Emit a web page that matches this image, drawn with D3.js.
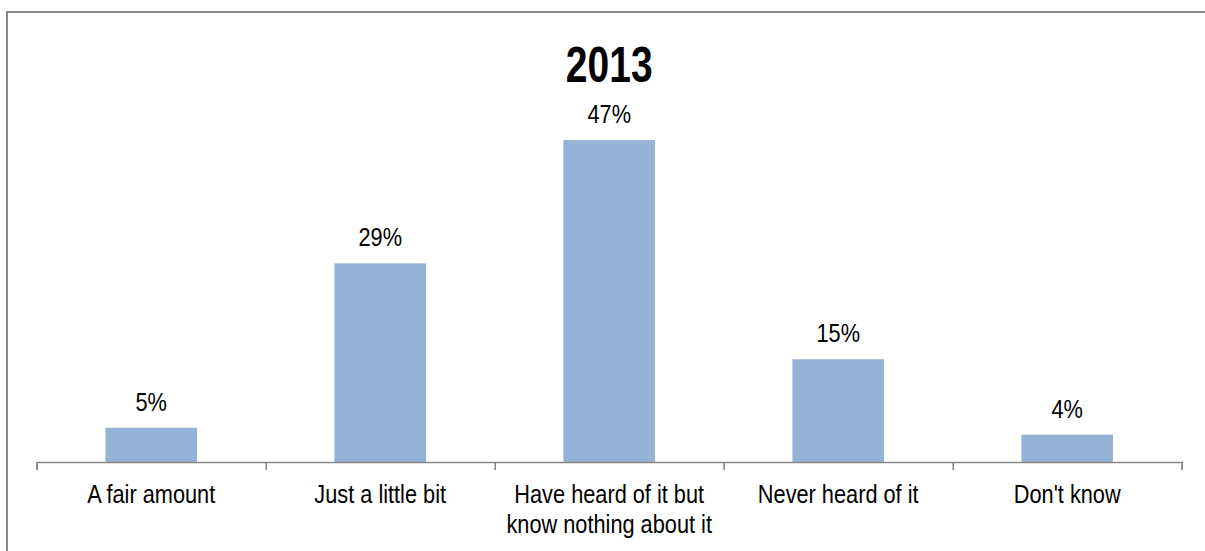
<!DOCTYPE html>
<html>
<head>
<meta charset="utf-8">
<script src="https://cdn.jsdelivr.net/npm/d3@7"></script>
<style>
  html, body { margin: 0; padding: 0; background: #fff; overflow: hidden; }
  svg { display: block; }
  text { font-family: "Liberation Sans", Arial, sans-serif; fill: #000; }
</style>
</head>
<body>
<svg id="chart" width="1205" height="551"></svg>
<script>
// ---- data ----
const title = "2013";
const categories = ["A fair amount", "Just a little bit", "Have heard of it but\nknow nothing about it", "Never heard of it", "Don't know"];
const values = [5, 29, 47, 15, 4];
const valueLabels = ["5%", "29%", "47%", "15%", "4%"];

// ---- layout ----
const W = 1205, H = 551;
const svg = d3.select("#chart");
const textScale = 0.87;

// outer border (only top and left edges are visible)
const border = d3.path();
border.moveTo(7, H);
border.lineTo(7, 12);
border.lineTo(W, 12);
svg.append("path")
  .attr("d", border.toString())
  .attr("fill", "none")
  .attr("stroke", "#898989")
  .attr("stroke-width", 2);

const x = d3.scaleLinear().domain([0, categories.length]).range([36.7, 1181.7]);
const y = d3.scaleLinear().domain([0, 50]).range([462, 119.5]);

// bars
svg.append("g").selectAll("rect")
  .data(values)
  .join("rect")
  .attr("x", (d, i) => x(i + 0.3))
  .attr("width", (d, i) => x(i + 0.7) - x(i + 0.3))
  .attr("y", d => y(d))
  .attr("height", d => y(0) - y(d))
  .attr("fill", "#95B3D7");

// axis
const axis = d3.axisBottom(x)
  .tickValues(d3.range(categories.length + 1))
  .tickFormat("")
  .tickSizeInner(8)
  .tickSizeOuter(8);
const gAxis = svg.append("g")
  .attr("transform", `translate(0,${y(0)})`)
  .call(axis);
gAxis.select(".domain").attr("stroke", "#878787").attr("stroke-width", 1.6);
gAxis.selectAll(".tick line").attr("stroke", "#878787").attr("stroke-width", 1.6);

// value labels
svg.append("g").selectAll("text")
  .data(values)
  .join("text")
  .attr("transform", (d, i) => `translate(${x(i + 0.5)},${y(d) - 17}) scale(${textScale},1)`)
  .attr("text-anchor", "middle")
  .attr("font-size", 25)
  .text((d, i) => valueLabels[i]);

// category labels
const catG = svg.append("g").selectAll("g")
  .data(categories)
  .join("g")
  .attr("transform", (d, i) => `translate(${x(i + 0.5)},${y(0) + 41}) scale(${textScale},1)`);
catG.each(function(d) {
  const lines = d.split("\n");
  d3.select(this).selectAll("text")
    .data(lines)
    .join("text")
    .attr("y", (l, j) => j * 29.7)
    .attr("text-anchor", "middle")
    .attr("font-size", 25)
    .text(l => l);
});

// title
svg.append("text")
  .attr("transform", `translate(${x(categories.length / 2)},81.5) scale(0.78,1)`)
  .attr("text-anchor", "middle")
  .attr("font-size", 50)
  .attr("font-weight", "bold")
  .text(title);
</script>
</body>
</html>
